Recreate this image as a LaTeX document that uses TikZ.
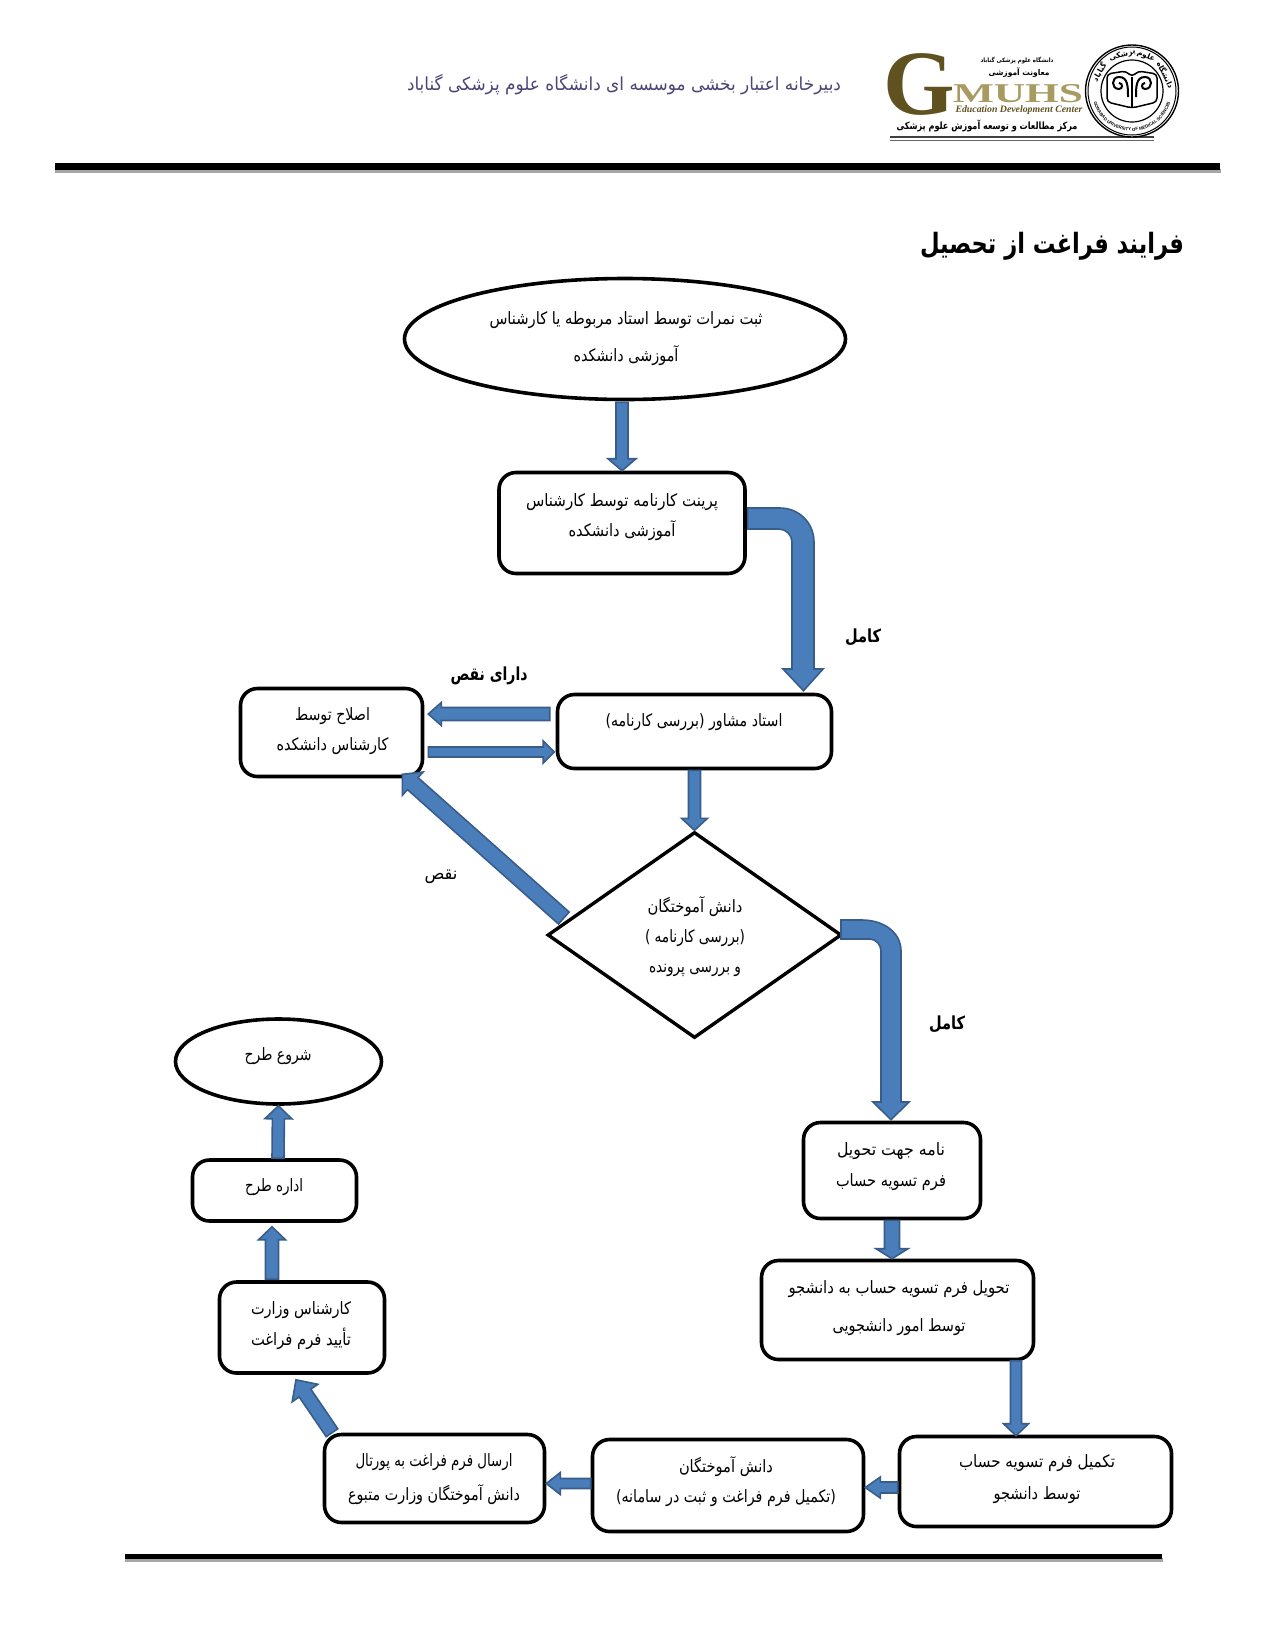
\documentclass[tikz,border=0pt]{standalone}
\usepackage{fontspec}
\usepackage{graphicx}
\usetikzlibrary{shapes.geometric,calc,decorations.text}
\TeXXeTstate=1
\setmainfont{Liberation Sans}
\newfontfamily\lserif{Liberation Serif}
\newfontfamily\fa[Script=Arabic]{DejaVu Sans}
\definecolor{arrowfill}{HTML}{4A7EBB}
\definecolor{arrowedge}{HTML}{385D8A}
\definecolor{headpurple}{HTML}{4F4478}
\definecolor{goldd}{HTML}{5F5220}
\definecolor{goldl}{HTML}{A89B62}
\newsavebox\fabox
% one text line, condensed horizontally to width #1 (in pt)
\makeatletter
\newcommand\stripwd{\strip@pt\wd\fabox}
\makeatother
\newcommand\fl[2]{\sbox\fabox{#2}\pgfmathsetmacro\fafac{#1/\stripwd}\scalebox{\fafac}[1]{\usebox\fabox}}
\newcommand\ringfont{\fontsize{4.4pt}{5pt}\selectfont\bfseries}
\tikzset{
  shapebox/.style={draw=black,line width=3.6pt,fill=white,rectangle,rounded corners=17pt,inner sep=0pt},
  oval/.style={draw=black,line width=3.6pt,fill=white,ellipse,inner sep=0pt},
  rhomb/.style={draw=black,line width=3.4pt,fill=white,diamond,inner sep=0pt},
  txt/.style={align=center,inner sep=0pt,font=\fa\fontsize{17pt}{#1}\selectfont},
  txt/.default=30pt,
  tag/.style={inner sep=0pt,font=\fa\bfseries\fontsize{18pt}{22pt}\selectfont},
  blockarrow/.style={draw=arrowedge,fill=arrowfill,line width=1.6pt,line join=miter},
  rulebar/.style={fill=black,draw=none},
  barshadow/.style={fill=black!35,draw=none}
}
% block arrow: from, to, half shaft, half head, head length
\newcommand\blockarrow[5]{%
  \coordinate (ca) at #1; \coordinate (cb) at #2;
  \coordinate (ch) at ($(cb)!#5!(ca)$);
  \draw[blockarrow] ($(ca)!#3!90:(cb)$) -- ($(ch)!#3!90:(cb)$) -- ($(ch)!#4!90:(cb)$) -- (cb)
     -- ($(ch)!#4!-90:(cb)$) -- ($(ch)!#3!-90:(cb)$) -- ($(ca)!#3!-90:(cb)$) -- cycle;
}
\begin{document}
\begin{tikzpicture}[x=1pt,y=-1pt]
\useasboundingbox (0,0) rectangle (1275,1650);
\fill[white] (0,0) rectangle (1275,1650);

% header rules
\fill[barshadow] (55,169) rectangle (1221,173);
\fill[rulebar] (55,163) rectangle (1220,170);
\fill[barshadow] (125,1558) rectangle (1163,1562);
\fill[rulebar] (125,1554) rectangle (1162,1559);

% header text
\node[inner sep=0pt,text=headpurple,font=\fa\fontsize{18pt}{22pt}\selectfont] (head) at (624,85) {\fl{434}{\beginR دبیرخانه اعتبار بخشی موسسه ای دانشگاه علوم پزشکی گناباد\endR}};
\node[inner sep=0pt,font=\fa\bfseries\fontsize{28pt}{32pt}\selectfont] (title) at (1052,246) {\fl{264}{\beginR فرایند فراغت از تحصیل\endR}};

% logo
\node[inner sep=0pt,text=goldd,font=\lserif\bfseries\fontsize{92pt}{92pt}\selectfont] (logoG) at (919,84) {G};
\node[inner sep=0pt,text=goldl,font=\lserif\bfseries\fontsize{24pt}{26pt}\selectfont] (logoM) at (1018,94) {\resizebox{130pt}{18pt}{MUHS}};
\node[inner sep=0pt,text=goldd,font=\lserif\bfseries\itshape\fontsize{14pt}{16pt}\selectfont] (logoE) at (1019,110) {\resizebox{127pt}{!}{Education Development Center}};
\node[inner sep=0pt,font=\fa\bfseries\fontsize{6pt}{8pt}\selectfont] (logo1) at (1017,60) {\fl{73}{\beginR دانشگاه علوم پزشکی گناباد\endR}};
\node[inner sep=0pt,font=\fa\bfseries\fontsize{8pt}{10pt}\selectfont] (logo2) at (1019,73) {\fl{61}{\beginR معاونت آموزشی\endR}};
\node[inner sep=0pt,font=\fa\bfseries\fontsize{10pt}{12pt}\selectfont] (logo3) at (987,126) {\fl{181}{\beginR مرکز مطالعات و توسعه آموزش علوم پزشکی\endR}};
\draw[line width=1.4pt,black!75] (890,137) -- (1154,137);
\draw[line width=1pt,black!60] (890,140) -- (1154,140);
\begin{scope}[shift={(1132,91)},x=1pt,y=1pt]
  \draw[line width=1.4pt,fill=white] (0,0) ellipse[x radius=46.5pt,y radius=46pt];
  \draw[line width=1pt] (0,0) circle[radius=44pt];
  \draw[line width=1.2pt] (0,0) circle[radius=31pt];
  \path[decorate,decoration={text along path,text align=center,text={|\ringfont|GONABAD UNIVERSITY OF MEDICAL SCIENCES}}]
     (185:40pt) arc[start angle=185,end angle=355,radius=40pt];
  \node[inner sep=0pt,rotate=-64,font=\fa\bfseries\fontsize{7.5pt}{9pt}\selectfont] (ring1) at (26:37.5pt) {\beginR دانشگاه\endR};
  \node[inner sep=0pt,rotate=-22,font=\fa\bfseries\fontsize{7.5pt}{9pt}\selectfont] (ring2) at (68:37.5pt) {\beginR علوم\endR};
  \node[inner sep=0pt,rotate=15,font=\fa\bfseries\fontsize{7.5pt}{9pt}\selectfont] (ring3) at (105:37.5pt) {\beginR پزشکی\endR};
  \node[inner sep=0pt,rotate=60,font=\fa\bfseries\fontsize{7.5pt}{9pt}\selectfont] (ring4) at (150:37.5pt) {\beginR گناباد\endR};
  % book
  \draw[line width=1.5pt,rounded corners=4pt] (0,-17) -- (-25,-11) -- (-25,17) -- (-6,20) -- (0,14) -- (6,20) -- (25,17) -- (25,-11) -- cycle;
  \draw[line width=1.2pt] (0,14) -- (0,-17);
  \draw[line width=2pt] (-4,-6) .. controls (-4,4) and (-4,14) .. (-13,14) .. controls (-21,14) and (-21,2) .. (-13,2) .. controls (-9,2) and (-9,8) .. (-13,8);
  \draw[line width=2pt] (4,-6) .. controls (4,4) and (4,14) .. (13,14) .. controls (21,14) and (21,2) .. (13,2) .. controls (9,2) and (9,8) .. (13,8);
\end{scope}

% flow shapes
\node[oval,minimum width=441pt,minimum height=121pt] (e1) at (625,339) {};
\node[shapebox,minimum width=246pt,minimum height=101pt] (b2) at (622,523) {};
\node[shapebox,minimum width=274pt,minimum height=74pt] (b3) at (694.5,731.5) {};
\node[shapebox,minimum width=182pt,minimum height=88pt] (b4) at (331.5,732.5) {};
\node[rhomb,minimum width=294pt,minimum height=206pt] (d) at (694.5,935) {};
\node[shapebox,minimum width=177pt,minimum height=96pt] (b5) at (892,1170.5) {};
\node[shapebox,minimum width=272pt,minimum height=99pt] (b6) at (897.5,1310) {};
\node[shapebox,minimum width=272pt,minimum height=90pt] (b7) at (1035.5,1481.5) {};
\node[shapebox,minimum width=271pt,minimum height=92pt] (b8) at (728,1485.5) {};
\node[shapebox,minimum width=220pt,minimum height=88pt] (b9) at (434.5,1478.5) {};
\node[shapebox,minimum width=165pt,minimum height=91pt] (b10) at (302,1327.5) {};
\node[shapebox,minimum width=164pt,minimum height=61pt] (b11) at (274.5,1190.5) {};
\node[oval,minimum width=206pt,minimum height=85pt] (e2) at (278.5,1061.5) {};

% connectors
\blockarrow{($(b2.north |- e1.south)+(0,1)$)}{(b2.north)}{6pt}{14pt}{12pt}
\draw[blockarrow] ($(b2.east)+(1,-15)$) -- (780,508) .. controls (799,508) and (814,523) .. (814,542) -- (814,669) -- (823,669) -- ($(b3.north)+(109,-2)$) -- (783,669) -- (792,669) -- (792,542) .. controls (792,535) and (786,529) .. (779,529) -- ($(b2.east)+(1,6)$) -- cycle;
\blockarrow{($(b3.west)+(-6,-17.5)$)}{($(b4.east)+(4,-18.5)$)}{6.5pt}{11.5pt}{13pt}
\blockarrow{($(b4.east)+(4,19.5)$)}{($(b3.west)+(-1.5,20.5)$)}{5pt}{11pt}{11pt}
\blockarrow{(b3.south)}{(d.north)}{6pt}{13pt}{12pt}
\blockarrow{($(d.west)+(18,-17)$)}{($(b4.south east)+(-22,-4)$)}{8pt}{15.5pt}{14pt}
\draw[blockarrow] (841,920) -- (862,920) .. controls (883,920) and (901,932) .. (901,951) -- (901,1102) -- (909,1102) -- ($(b5.north)+(-1,-1)$) -- (873,1102) -- (881,1102) -- (881,951) .. controls (881,945) and (876,939) .. (870,939) -- (841,939) -- cycle;
\blockarrow{(b5.south)}{(b5.south |- b6.north)}{7.5pt}{16pt}{10pt}
\blockarrow{($(b7.north)+(-19.5,-74)$)}{($(b7.north)+(-19.5,1)$)}{5.5pt}{12.5pt}{12pt}
\blockarrow{($(b7.west)+(0,6)$)}{($(b8.east)+(0,2)$)}{5.5pt}{10.5pt}{15pt}
\blockarrow{($(b8.west)+(0,-2)$)}{($(b9.east)+(0,5)$)}{5pt}{11pt}{14pt}
\blockarrow{($(b9.north)+(-102.5,0)$)}{($(b10.south)+(-6,5)$)}{7pt}{15.5pt}{16pt}
\blockarrow{($(b10.north)+(-30,-1)$)}{($(b11.south)+(-2.5,4)$)}{6.5pt}{13.5pt}{13pt}
\blockarrow{($(b11.north)+(3.5,0)$)}{(e2.south)}{6pt}{13.5pt}{13pt}

% flow texts
\node[txt=37pt] (te1) at (626,339) {\fl{273}{\beginR ثبت نمرات توسط استاد مربوطه یا کارشناس\endR}\\\fl{105}{\beginR آموزشی دانشکده\endR}};
\node[txt=30pt] (tb2) at (622,517) {\fl{192}{\beginR پرینت کارنامه توسط کارشناس\endR}\\\fl{107}{\beginR آموزشی دانشکده\endR}};
\node[txt] (tb3) at (694,722) {\fl{177}{\beginR استاد مشاور (بررسی کارنامه)\endR}};
\node[txt=30pt] (tb4) at (332.5,731.5) {\fl{75}{\beginR اصلاح توسط\endR}\\\fl{112}{\beginR کارشناس دانشکده\endR}};
\node[txt=30pt] (td) at (695,937) {\fl{95}{\beginR دانش آموختگان\endR}\\\fl{100}{\beginR (بررسی کارنامه )\endR}\\\fl{92}{\beginR و بررسی پرونده\endR}};
\node[txt=31pt] (tb5) at (891,1166.5) {\fl{108}{\beginR نامه جهت تحویل\endR}\\\fl{110}{\beginR فرم تسویه حساب\endR}};
\node[txt=38pt] (tb6) at (899,1308) {\fl{221}{\beginR تحویل فرم تسویه حساب به دانشجو\endR}\\\fl{133}{\beginR توسط امور دانشجویی\endR}};
\node[txt=32pt] (tb7) at (1037,1479) {\fl{156}{\beginR تکمیل فرم تسویه حساب\endR}\\\fl{87}{\beginR توسط دانشجو\endR}};
\node[txt=30pt] (tb8) at (726,1482) {\fl{94}{\beginR دانش آموختگان\endR}\\\fl{220}{\beginR (تکمیل فرم فراغت و ثبت در سامانه)\endR}};
\node[txt=34pt] (tb9) at (434,1479.5) {\fl{157}{\beginR ارسال فرم فراغت به پورتال\endR}\\\fl{172}{\beginR دانش آموختگان وزارت متبوع\endR}};
\node[txt=31pt] (tb10) at (301,1325.5) {\fl{100}{\beginR کارشناس وزارت\endR}\\\fl{100}{\beginR تأیید فرم فراغت\endR}};
\node[txt] (tb11) at (274,1187) {\fl{58}{\beginR اداره طرح\endR}};
\node[txt] (te2) at (278,1056) {\fl{67}{\beginR شروع طرح\endR}};

% branch labels
\node[tag] (l1) at (863,637) {\fl{36}{\beginR کامل\endR}};
\node[tag] (l2) at (489,676) {\fl{77}{\beginR دارای نقص\endR}};
\node[txt] (l3) at (441,877) {\fl{33}{\beginR نقص\endR}};
\node[tag] (l4) at (947,1024) {\fl{36}{\beginR کامل\endR}};
\end{tikzpicture}
\end{document}
